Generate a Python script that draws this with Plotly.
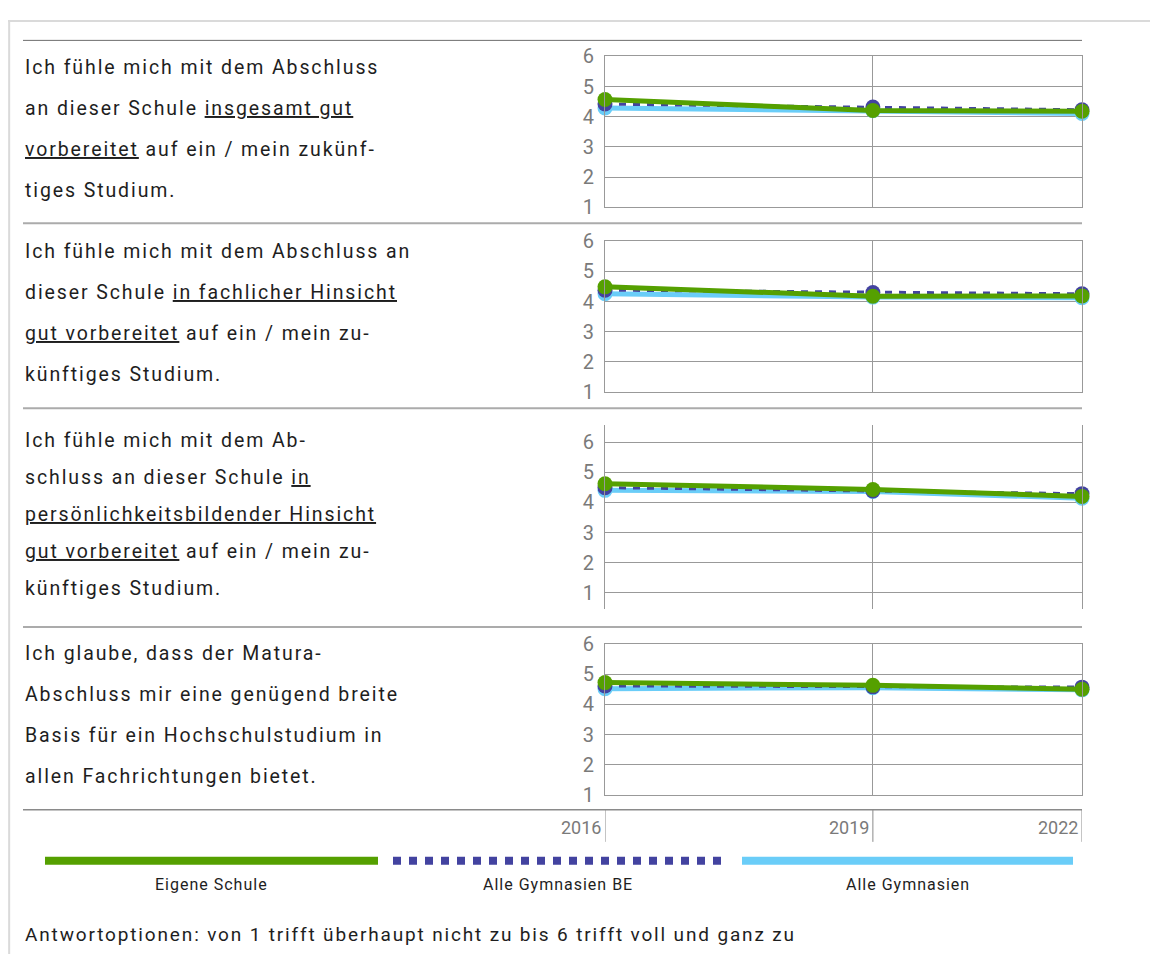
import plotly.graph_objects as go

# ─────────────────────────────────────────────
# DATA
# ─────────────────────────────────────────────
survey_dates = ["2016-01-01", "2019-05-16", "2022-01-01"]
year_labels = ["2016", "2019", "2022"]

series_names = ["Eigene Schule", "Alle Gymnasien BE", "Alle Gymnasien"]

# one row per question, values for 2016 / 2019 / 2022
eigene_schule = [
    [4.57, 4.21, 4.18],
    [4.49, 4.18, 4.19],
    [4.62, 4.43, 4.20],
    [4.72, 4.63, 4.50],
]
gymnasien_be = [
    [4.42, 4.32, 4.23],
    [4.38, 4.30, 4.26],
    [4.49, 4.38, 4.29],
    [4.61, 4.58, 4.57],
]
gymnasien_alle = [
    [4.29, 4.20, 4.11],
    [4.26, 4.15, 4.13],
    [4.40, 4.36, 4.14],
    [4.52, 4.55, 4.48],
]

questions = [
    ["Ich fühle mich mit dem Abschluss",
     "an dieser Schule <u>insgesamt gut</u>",
     "<u>vorbereitet</u> auf ein / mein zukünf-",
     "tiges Studium."],
    ["Ich fühle mich mit dem Abschluss an",
     "dieser Schule <u>in fachlicher Hinsicht</u>",
     "<u>gut vorbereitet</u> auf ein / mein zu-",
     "künftiges Studium."],
    ["Ich fühle mich mit dem Ab-",
     "schluss an dieser Schule <u>in</u>",
     "<u>persönlichkeitsbildender Hinsicht</u>",
     "<u>gut vorbereitet</u> auf ein / mein zu-",
     "künftiges Studium."],
    ["Ich glaube, dass der Matura-",
     "Abschluss mir eine genügend breite",
     "Basis für ein Hochschulstudium in",
     "allen Fachrichtungen bietet."],
]

footnote = "Antwortoptionen: von 1 trifft überhaupt nicht zu bis 6 trifft voll und ganz zu"

# ─────────────────────────────────────────────
# STYLE / GEOMETRY (page pixels)
# ─────────────────────────────────────────────
W, H = 1158, 958
FONT = "Roboto"
C = {
    "green": "#55A000",
    "navy": "#4343A0",
    "sky": "#6ACDF8",
    "grid": "#999999",
    "tick": "#7a7a7a",
    "text": "#1e1e1e",
}
PLOT_X = (605, 1082)
PANELS = [
    dict(top=55, bottom=206, yr=[1, 6], box=True, sep=(39, 222), pitch=41),
    dict(top=240, bottom=391, yr=[1, 6], box=True, sep=(222, 407), pitch=41),
    dict(top=424, bottom=608, yr=[0.47, 6.56], box=False, sep=(407, 626), pitch=37),
    dict(top=643, bottom=794, yr=[1, 6], box=True, sep=(626, 809), pitch=41),
]

# the page puts the figure a bit right / squeezed down, measured from test renders
OX, OY, SY = 8, 18.6, 0.9756


def px(x):
    return (x - OX) / W


def py(y):
    return 1 - (y - OY) / SY / H


def spaced(txt, ls=1.9):
    return f'<span style="letter-spacing:{ls}px">{txt}</span>'


fig = go.Figure()
layout = dict(
    width=W, height=H,
    margin=dict(l=0, r=0, t=0, b=0),
    paper_bgcolor="white", plot_bgcolor="white",
    showlegend=False,
    font=dict(family=FONT, color=C["text"]),
)
shapes, annotations = [], []

for i, p in enumerate(PANELS):
    n = i + 1
    xa, ya = f"x{n}", f"y{n}"
    # draw order: light blue, dashed navy, green on top
    fig.add_trace(go.Scatter(
        x=survey_dates, y=gymnasien_alle[i], xaxis=xa, yaxis=ya,
        mode="lines+markers", name=series_names[2], cliponaxis=False,
        line=dict(color=C["sky"], width=5), marker=dict(size=15, color=C["sky"]),
    ))
    fig.add_trace(go.Scatter(
        x=survey_dates, y=gymnasien_be[i], xaxis=xa, yaxis=ya,
        mode="lines+markers", name=series_names[1], cliponaxis=False,
        line=dict(color=C["navy"], width=3, dash="7px,7px"),
        marker=dict(size=15, color=C["navy"]),
    ))
    fig.add_trace(go.Scatter(
        x=survey_dates, y=eigene_schule[i], xaxis=xa, yaxis=ya,
        mode="lines+markers", name=series_names[0], cliponaxis=False,
        line=dict(color=C["green"], width=5), marker=dict(size=15, color=C["green"]),
    ))

    layout[f"xaxis{n}" if n > 1 else "xaxis"] = dict(
        domain=[px(PLOT_X[0]), px(PLOT_X[1])], anchor=ya,
        type="date", range=[survey_dates[0], survey_dates[-1]],
        tickvals=survey_dates, showticklabels=False, ticks="",
        showgrid=True, gridcolor=C["grid"], gridwidth=1, zeroline=False,
        showline=p["box"], mirror=p["box"], linecolor=C["grid"], linewidth=1,
        fixedrange=True,
    )
    layout[f"yaxis{n}" if n > 1 else "yaxis"] = dict(
        domain=[py(p["bottom"]), py(p["top"])], anchor=xa, range=p["yr"],
        tickvals=[1, 2, 3, 4, 5, 6], ticks="", ticklabelstandoff=6,
        tickfont=dict(size=20, color=C["tick"], family=FONT),
        showgrid=True, gridcolor=C["grid"], gridwidth=1, zeroline=False,
        showline=True, mirror=True, linecolor=C["grid"], linewidth=1,
        fixedrange=True,
    )

    # separator line above each panel
    top_sep = p["sep"][0]
    shapes.append(dict(
        type="line", xref="paper", yref="paper",
        x0=px(23), x1=px(1082), y0=py(top_sep), y1=py(top_sep),
        line=dict(color="#6e6e6e" if i == 0 else "#ababab", width=1 if i == 0 else 2),
    ))

    # question text, one annotation per line
    lines = questions[i]
    mid = (p["sep"][0] + p["sep"][1]) / 2 - 3
    start = mid - p["pitch"] * (len(lines) - 1) / 2
    for k, txt in enumerate(lines):
        annotations.append(dict(
            xref="paper", yref="paper", x=px(23), y=py(start + k * p["pitch"]),
            xanchor="left", yanchor="middle", showarrow=False, text=spaced(txt),
            font=dict(size=19.5, color=C["text"], family=FONT),
        ))

# bottom rule + year ticks
shapes.append(dict(
    type="line", xref="paper", yref="paper",
    x0=px(23), x1=px(1082), y0=py(809), y1=py(809),
    line=dict(color="#8a8a8a", width=1.5),
))
for d, lab in zip(survey_dates, year_labels):
    shapes.append(dict(
        type="line", xref="x4", yref="paper", x0=d, x1=d,
        y0=py(809), y1=py(841), line=dict(color="#8a8a8a", width=1),
    ))
    annotations.append(dict(
        xref="x4", yref="paper", x=d, y=py(827), xanchor="right", yanchor="middle",
        xshift=-2, showarrow=False, text=lab,
        font=dict(size=18, color=C["tick"], family=FONT),
    ))

# hand-made legend
legend_spans = [(45, 378), (393, 722), (742, 1073)]
legend_lines = [
    dict(color=C["green"], width=8),
    dict(color=C["navy"], width=8, dash="dot"),
    dict(color=C["sky"], width=8),
]
for (x0, x1), ln, name in zip(legend_spans, legend_lines, series_names):
    shapes.append(dict(
        type="line", xref="paper", yref="paper",
        x0=px(x0), x1=px(x1), y0=py(860), y1=py(860), line=ln,
    ))
    annotations.append(dict(
        xref="paper", yref="paper", x=px((x0 + x1) / 2), y=py(884),
        xanchor="center", yanchor="middle", showarrow=False, text=spaced(name, 1),
        font=dict(size=16, color=C["text"], family=FONT),
    ))

annotations.append(dict(
    xref="paper", yref="paper", x=px(23), y=py(934), xanchor="left", yanchor="middle",
    showarrow=False, text=spaced(footnote, 1.85),
    font=dict(size=19, color=C["text"], family=FONT),
))

# outer frame (left + top edge)
shapes.append(dict(type="line", xref="paper", yref="paper",
                   x0=0.001, x1=0.001, y0=1, y1=0, line=dict(color="#dadada", width=2)))
shapes.append(dict(type="line", xref="paper", yref="paper",
                   x0=0, x1=1, y0=0.999, y1=0.999, line=dict(color="#dadada", width=2)))

layout["shapes"] = shapes
layout["annotations"] = annotations
fig.update_layout(**layout)

fig.write_html("out.html")
